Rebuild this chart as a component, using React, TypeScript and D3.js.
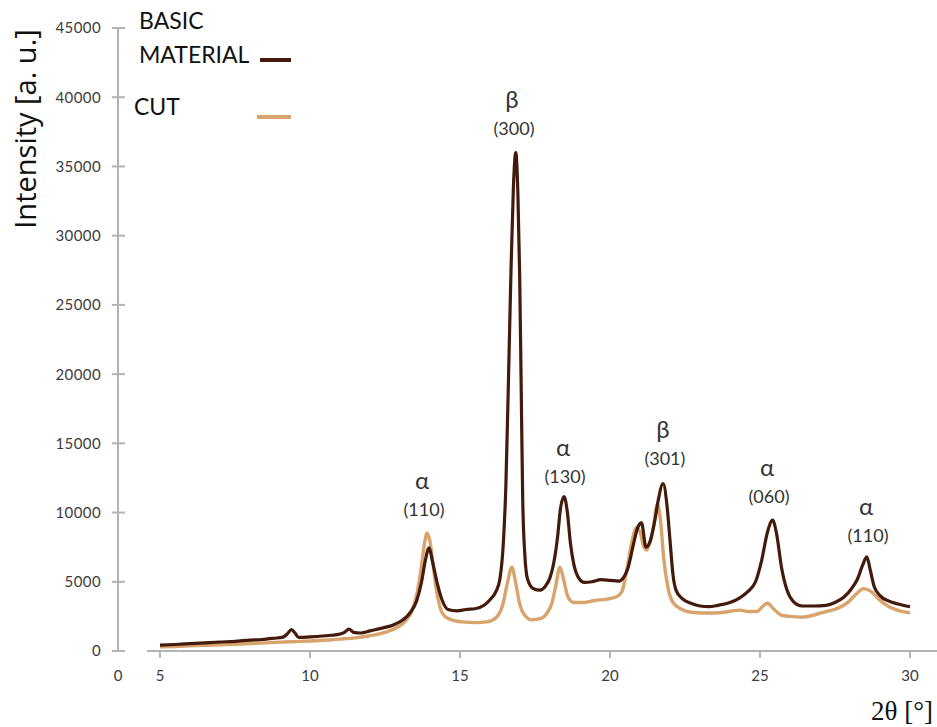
import React from 'react';
import * as d3 from 'd3';

// 2θ [°], intensity [a. u.]
const basicMaterial: [number, number][] = [
  [5.0, 420], [5.5, 470], [6.0, 530], [6.5, 590], [7.0, 650], [7.5, 700], [8.0, 790], [8.4, 830],
  [8.8, 920], [9.1, 1000], [9.25, 1250], [9.38, 1550], [9.5, 1300], [9.62, 980], [10.0, 1020],
  [10.5, 1100], [10.9, 1180], [11.15, 1350], [11.3, 1580], [11.45, 1350], [11.7, 1300], [12.0, 1450],
  [12.4, 1650], [12.8, 1900], [13.1, 2250], [13.35, 2800], [13.55, 3600], [13.72, 5000], [13.85, 6600],
  [13.97, 7450], [14.08, 6500], [14.23, 5000], [14.4, 3700], [14.6, 3000], [14.9, 2900], [15.2, 3000],
  [15.5, 3050], [15.8, 3300], [16.0, 3700], [16.2, 4300], [16.33, 5200], [16.45, 8000], [16.53, 12000],
  [16.62, 20000], [16.7, 27500], [16.78, 33500], [16.86, 36000], [16.93, 33000], [16.99, 27000],
  [17.04, 19000], [17.09, 11000], [17.16, 7000], [17.25, 5200], [17.45, 4500], [17.67, 4400],
  [17.85, 4700], [18.0, 5300], [18.12, 6300], [18.25, 8200], [18.35, 10300], [18.47, 11150],
  [18.58, 10000], [18.68, 7800], [18.8, 6200], [18.95, 5300], [19.15, 4950], [19.4, 5000],
  [19.7, 5150], [20.0, 5100], [20.3, 5050], [20.45, 5300], [20.6, 6000], [20.77, 7600], [20.92, 8900],
  [21.05, 9250], [21.2, 7500], [21.35, 8000], [21.5, 9500], [21.6, 10800], [21.77, 12100],
  [21.9, 10500], [22.0, 8000], [22.1, 5500], [22.2, 4400], [22.4, 3800], [22.7, 3450], [23.0, 3250],
  [23.3, 3200], [23.6, 3300], [24.0, 3500], [24.3, 3800], [24.6, 4300], [24.85, 5000], [25.05, 6500],
  [25.25, 8600], [25.42, 9450], [25.55, 8500], [25.72, 6000], [25.9, 4400], [26.1, 3600], [26.4, 3250],
  [26.8, 3250], [27.2, 3300], [27.5, 3500], [27.8, 3900], [28.05, 4500], [28.25, 5200], [28.42, 6200],
  [28.56, 6800], [28.68, 5800], [28.8, 4700], [29.0, 4000], [29.3, 3600], [29.6, 3400], [30.0, 3200],
];

const cut: [number, number][] = [
  [5.0, 300], [5.5, 330], [6.0, 370], [6.5, 410], [7.0, 450], [7.5, 490], [8.0, 540], [8.5, 590],
  [9.0, 640], [9.5, 680], [10.0, 720], [10.5, 780], [11.0, 860], [11.5, 950], [12.0, 1100],
  [12.5, 1350], [12.9, 1700], [13.2, 2200], [13.4, 2900], [13.58, 4300], [13.72, 6200], [13.82, 7800],
  [13.9, 8500], [14.0, 7900], [14.1, 6300], [14.2, 4600], [14.33, 3200], [14.5, 2500], [14.8, 2200],
  [15.1, 2100], [15.5, 2050], [15.9, 2100], [16.2, 2400], [16.42, 3300], [16.58, 4900], [16.73, 6050],
  [16.85, 5000], [16.98, 3500], [17.15, 2600], [17.4, 2250], [17.7, 2350], [17.92, 2800], [18.07, 3500],
  [18.2, 4800], [18.33, 6050], [18.45, 5200], [18.6, 3900], [18.8, 3500], [19.1, 3500], [19.5, 3650],
  [19.9, 3750], [20.2, 3900], [20.4, 4300], [20.57, 6000], [20.72, 7800], [20.88, 8900], [21.0, 8600],
  [21.13, 7500], [21.23, 7300], [21.35, 8000], [21.45, 9000], [21.58, 10600], [21.68, 9500],
  [21.8, 6500], [21.93, 4600], [22.1, 3500], [22.4, 3000], [22.7, 2800], [23.1, 2750], [23.5, 2750],
  [23.8, 2800], [24.1, 2900], [24.35, 2950], [24.6, 2850], [24.9, 2850], [25.1, 3250], [25.25, 3450],
  [25.45, 3050], [25.7, 2600], [26.0, 2500], [26.4, 2450], [26.8, 2600], [27.2, 2850], [27.6, 3100],
  [27.95, 3550], [28.2, 4100], [28.45, 4500], [28.7, 4300], [28.95, 3750], [29.3, 3200], [29.65, 2900],
  [30.0, 2750],
];

const xTicks = [5, 10, 15, 20, 25, 30];
const yTicks = [0, 5000, 10000, 15000, 20000, 25000, 30000, 35000, 40000, 45000];

// phase + Miller index labels, anchored at (2θ, intensity) of the index text baseline
const peakLabels = [
  { phase: 'α', hkl: '(110)', theta: 13.8, level: 9750 },
  { phase: 'β', hkl: '(300)', theta: 16.8, level: 37300 },
  { phase: 'α', hkl: '(130)', theta: 18.5, level: 12150 },
  { phase: 'β', hkl: '(301)', theta: 21.83, level: 13450 },
  { phase: 'α', hkl: '(060)', theta: 25.3, level: 10700 },
  { phase: 'α', hkl: '(110)', theta: 28.6, level: 7900 },
];

const W = 937;
const H = 727;
const DARK = '#431a0c';
const LIGHT = '#d9a36c';
const AXIS = '#b3b3b3';
const TICK_TEXT = '#3c3c3c';
const FONT = 'Lato, "Open Sans", sans-serif';

export default function App() {
  const x = d3.scaleLinear().domain([5, 30]).range([160, 910]);
  const y = d3.scaleLinear().domain([0, 45000]).range([651, 28]);

  const line = d3
    .line<[number, number]>()
    .x((d) => x(d[0]))
    .y((d) => y(d[1]))
    .curve(d3.curveMonotoneX);

  const y0 = y(0);

  return (
    <svg width={W} height={H} style={{ position: 'absolute', left: 0, top: 0, background: '#fff' }}>
      {/* y axis */}
      <line x1={118} x2={118} y1={y(45000)} y2={y0} stroke={AXIS} strokeWidth={2} />
      {yTicks.map((t) => (
        <g key={t}>
          <line x1={112} x2={125} y1={y(t)} y2={y(t)} stroke={AXIS} strokeWidth={2} />
          <text
            x={101}
            y={y(t)}
            dy="0.36em"
            textAnchor="end"
            fontFamily={FONT}
            fontSize={15}
            letterSpacing={0.4}
            fill={TICK_TEXT}
          >
            {t}
          </text>
        </g>
      ))}

      {/* x axis */}
      <line x1={147} x2={W} y1={y0} y2={y0} stroke={AXIS} strokeWidth={2} />
      {xTicks.map((t) => (
        <g key={t}>
          <line x1={x(t)} x2={x(t)} y1={y0} y2={y0 + 7} stroke={AXIS} strokeWidth={2} />
          <text x={x(t)} y={681} textAnchor="middle" fontFamily={FONT} fontSize={15} fill={TICK_TEXT}>
            {t}
          </text>
        </g>
      ))}
      <text x={118} y={681} textAnchor="middle" fontFamily={FONT} fontSize={15} fill={TICK_TEXT}>
        0
      </text>

      {/* curves */}
      <path d={line(cut) ?? ''} fill="none" stroke={LIGHT} strokeWidth={3.4} strokeLinejoin="round" />
      <path d={line(basicMaterial) ?? ''} fill="none" stroke={DARK} strokeWidth={3.2} strokeLinejoin="round" />

      {/* peak labels */}
      {peakLabels.map((p, i) => (
        <g key={i} fill="#333" fontFamily={FONT} textAnchor="middle">
          <text x={x(p.theta) - 2} y={y(p.level) - 27} fontSize={24}>
            {p.phase}
          </text>
          <text x={x(p.theta)} y={y(p.level)} fontSize={18}>
            {p.hkl}
          </text>
        </g>
      ))}

      {/* legend */}
      <g fontFamily={FONT} fontSize={23} fill="#111">
        <text x={139} y={29}>BASIC</text>
        <text x={139} y={63}>MATERIAL</text>
        <text x={134} y={115}>CUT</text>
      </g>
      <line x1={260} x2={291} y1={60} y2={60} stroke={DARK} strokeWidth={4} />
      <line x1={257} x2={291} y1={117} y2={117} stroke={LIGHT} strokeWidth={4} />

      {/* axis titles */}
      <text
        transform="translate(36,129) rotate(-90)"
        textAnchor="middle"
        fontFamily='"Open Sans", sans-serif'
        fontSize={29}
        fill="#111"
      >
        Intensity [a. u.]
      </text>
      <text x={933} y={720} textAnchor="end" fontFamily='"Liberation Serif", serif' fontSize={27} fill="#111">
        2θ [°]
      </text>
    </svg>
  );
}
